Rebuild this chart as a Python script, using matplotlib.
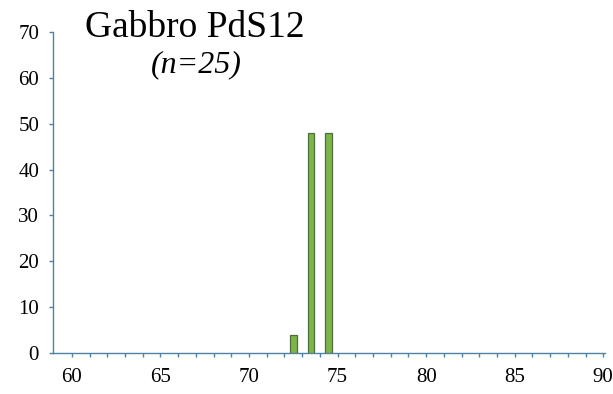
import matplotlib
matplotlib.use("Agg")
import matplotlib.pyplot as plt
import numpy as np

bin_centers = [72.5, 73.5, 74.5]
frequency = [4, 48, 48]
x_ticks = [60, 65, 70, 75, 80, 85, 90]
y_ticks = [0, 10, 20, 30, 40, 50, 60, 70]
title = "Gabbro PdS12"
subtitle = "(n=25)"

plt.rcParams['font.family'] = ['Liberation Serif', 'DejaVu Serif']

fig = plt.figure(figsize=(6.13, 3.94), dpi=100)
ax = fig.add_axes([53/613, 41/394, 552/613, (353-32)/394])

ax.bar(bin_centers, frequency, width=0.38, color='#7CB647', edgecolor='#4E6E3E', linewidth=0.9, zorder=3)

ax.set_xlim(58.93, 90.1)
ax.set_ylim(0, 70)
ax.set_xticks(x_ticks)
ax.set_xticks(np.arange(60, 91, 1), minor=True)
ax.set_yticks(y_ticks)

spine_color = '#4F81A6'
for s in ['top', 'right']:
    ax.spines[s].set_visible(False)
for s in ['left', 'bottom']:
    ax.spines[s].set_color(spine_color)
    ax.spines[s].set_linewidth(1.0)

ax.tick_params(axis='x', which='both', direction='out', length=3, width=1, color=spine_color,
               labelsize=15, pad=8)
ax.tick_params(axis='y', which='major', direction='out', length=3, width=1, color=spine_color,
               labelsize=15, pad=7)

fig.text(195/613, 1 - 37/394, title, ha='center', va='baseline', fontsize=27)
fig.text(196/613, 1 - 72/394, subtitle, ha='center', va='baseline', fontsize=23, style='italic')

fig.savefig("out.png", dpi=100)
